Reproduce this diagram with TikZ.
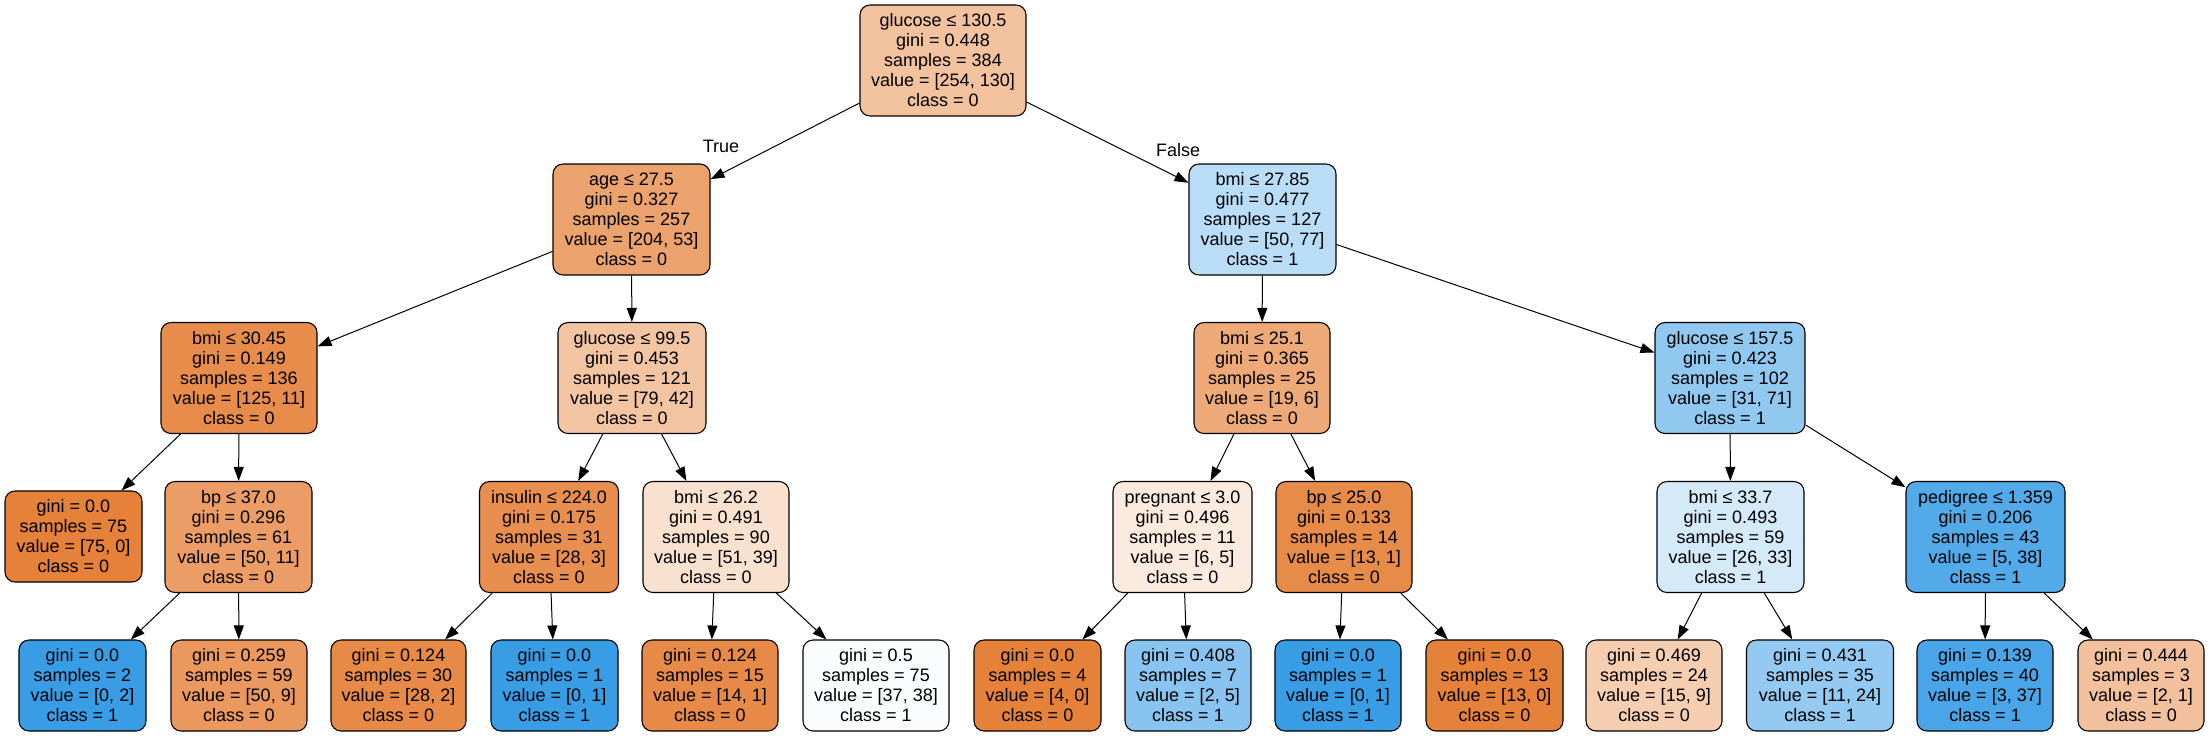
\documentclass[tikz,border=0pt]{standalone}
\usepackage{fontspec}
\setmainfont{Liberation Sans}
\usetikzlibrary{arrows.meta}
\definecolor{czero}{RGB}{229,129,57}
\definecolor{cone}{RGB}{57,157,229}
\begin{document}
\begin{tikzpicture}[x=0.75pt,y=-0.75pt,
  tn/.style={draw=black, line width=0.8pt, rounded corners=7.5pt, align=center, inner sep=0pt,
    font=\fontsize{13.5}{15}\selectfont, minimum height=83.25pt},
  lf/.style={tn, minimum height=68.25pt},
  bw/.style={minimum width=#1*0.75pt},
  edge/.style={-{Triangle[length=10.5pt,width=7.5pt]}, line width=0.75pt, black},
  lbl/.style={font=\fontsize{13.5}{15}\selectfont, inner sep=0pt}]
\useasboundingbox (0,0) rectangle (2210,736);
% level 0
\node[tn, bw=166, fill=czero!48.8!white] (n0) at (943,60.5) {glucose ≤ 130.5\\gini = 0.448\\samples = 384\\value = [254, 130]\\class = 0};
% level 1
\node[tn, bw=157, fill=czero!74!white] (age) at (631.5,219.5) {age ≤ 27.5\\gini = 0.327\\samples = 257\\value = [204, 53]\\class = 0};
\node[tn, bw=147, fill=cone!35.1!white] (bmiA) at (1262.5,219.5) {bmi ≤ 27.85\\gini = 0.477\\samples = 127\\value = [50, 77]\\class = 1};
% level 2
\node[tn, bw=156, fill=czero!91.2!white] (bmiB) at (239,378) {bmi ≤ 30.45\\gini = 0.149\\samples = 136\\value = [125, 11]\\class = 0};
\node[tn, bw=148, fill=czero!46.8!white] (gluB) at (632,378) {glucose ≤ 99.5\\gini = 0.453\\samples = 121\\value = [79, 42]\\class = 0};
\node[tn, bw=136, fill=czero!68.4!white] (bmiC) at (1262,378) {bmi ≤ 25.1\\gini = 0.365\\samples = 25\\value = [19, 6]\\class = 0};
\node[tn, bw=150, fill=cone!56.3!white] (gluC) at (1730,378) {glucose ≤ 157.5\\gini = 0.423\\samples = 102\\value = [31, 71]\\class = 1};
% level 3
\node[lf, bw=137, fill=czero] (l75) at (73.5,536.5) {gini = 0.0\\samples = 75\\value = [75, 0]\\class = 0};
\node[tn, bw=147, fill=czero!78!white] (bpA) at (238.5,537) {bp ≤ 37.0\\gini = 0.296\\samples = 61\\value = [50, 11]\\class = 0};
\node[tn, bw=139, fill=czero!89.3!white] (ins) at (549,537) {insulin ≤ 224.0\\gini = 0.175\\samples = 31\\value = [28, 3]\\class = 0};
\node[tn, bw=146, fill=czero!23.5!white] (bmiD) at (716,537) {bmi ≤ 26.2\\gini = 0.491\\samples = 90\\value = [51, 39]\\class = 0};
\node[tn, bw=139, fill=czero!16.7!white] (preg) at (1182.5,537) {pregnant ≤ 3.0\\gini = 0.496\\samples = 11\\value = [6, 5]\\class = 0};
\node[tn, bw=136, fill=czero!92.3!white] (bpB) at (1344,537) {bp ≤ 25.0\\gini = 0.133\\samples = 14\\value = [13, 1]\\class = 0};
\node[tn, bw=147, fill=cone!21.2!white] (bmiE) at (1730.5,537) {bmi ≤ 33.7\\gini = 0.493\\samples = 59\\value = [26, 33]\\class = 1};
\node[tn, bw=159, fill=cone!86.8!white] (ped) at (1985.5,537) {pedigree ≤ 1.359\\gini = 0.206\\samples = 43\\value = [5, 38]\\class = 1};
% level 4 leaves
\node[lf, bw=127, fill=cone] (la) at (82.5,685.5) {gini = 0.0\\samples = 2\\value = [0, 2]\\class = 1};
\node[lf, bw=136, fill=czero!82!white] (lb) at (239,685.5) {gini = 0.259\\samples = 59\\value = [50, 9]\\class = 0};
\node[lf, bw=135, fill=czero!92.9!white] (lc) at (398.5,685.5) {gini = 0.124\\samples = 30\\value = [28, 2]\\class = 0};
\node[lf, bw=127, fill=cone] (ld) at (554.5,685.5) {gini = 0.0\\samples = 1\\value = [0, 1]\\class = 1};
\node[lf, bw=136, fill=czero!92.9!white] (le) at (710,685.5) {gini = 0.124\\samples = 15\\value = [14, 1]\\class = 0};
\node[lf, bw=146, fill=cone!2.6!white] (lf5) at (876,685.5) {gini = 0.5\\samples = 75\\value = [37, 38]\\class = 1};
\node[lf, bw=127, fill=czero] (lg) at (1037.5,685.5) {gini = 0.0\\samples = 4\\value = [4, 0]\\class = 0};
\node[lf, bw=126, fill=cone!60!white] (lh) at (1188,685.5) {gini = 0.408\\samples = 7\\value = [2, 5]\\class = 1};
\node[lf, bw=126, fill=cone] (li) at (1338,685.5) {gini = 0.0\\samples = 1\\value = [0, 1]\\class = 1};
\node[lf, bw=137, fill=czero] (lj) at (1494.5,685.5) {gini = 0.0\\samples = 13\\value = [13, 0]\\class = 0};
\node[lf, bw=136, fill=czero!40!white] (lk) at (1654,685.5) {gini = 0.469\\samples = 24\\value = [15, 9]\\class = 0};
\node[lf, bw=147, fill=cone!54.2!white] (ll) at (1820,685.5) {gini = 0.431\\samples = 35\\value = [11, 24]\\class = 1};
\node[lf, bw=136, fill=cone!91.9!white] (lm) at (1985,685.5) {gini = 0.139\\samples = 40\\value = [3, 37]\\class = 1};
\node[lf, bw=126, fill=czero!50!white] (ln) at (2141,685.5) {gini = 0.444\\samples = 3\\value = [2, 1]\\class = 0};
% edge labels
\node[lbl] (tlab) at (721,146) {True};
\node[lbl] (flab) at (1178,150) {False};
% edges
\draw[edge] (n0) -- (age);
\draw[edge] (n0) -- (bmiA);
\draw[edge] (age) -- (bmiB);
\draw[edge] (age) -- (gluB);
\draw[edge] (bmiB) -- (l75);
\draw[edge] (bmiB) -- (bpA);
\draw[edge] (bpA) -- (la);
\draw[edge] (bpA) -- (lb);
\draw[edge] (gluB) -- (ins);
\draw[edge] (gluB) -- (bmiD);
\draw[edge] (ins) -- (lc);
\draw[edge] (ins) -- (ld);
\draw[edge] (bmiD) -- (le);
\draw[edge] (bmiD) -- (lf5);
\draw[edge] (bmiA) -- (bmiC);
\draw[edge] (bmiA) -- (gluC);
\draw[edge] (bmiC) -- (preg);
\draw[edge] (bmiC) -- (bpB);
\draw[edge] (preg) -- (lg);
\draw[edge] (preg) -- (lh);
\draw[edge] (bpB) -- (li);
\draw[edge] (bpB) -- (lj);
\draw[edge] (gluC) -- (bmiE);
\draw[edge] (gluC) -- (ped);
\draw[edge] (bmiE) -- (lk);
\draw[edge] (bmiE) -- (ll);
\draw[edge] (ped) -- (lm);
\draw[edge] (ped) -- (ln);
\end{tikzpicture}
\end{document}
